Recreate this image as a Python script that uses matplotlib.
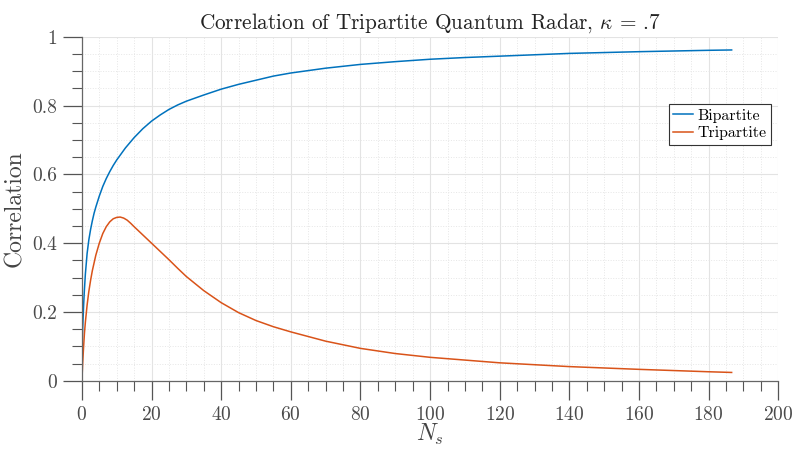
import numpy as np
import matplotlib
matplotlib.use("Agg")
import matplotlib.pyplot as plt
from matplotlib.ticker import MultipleLocator, FuncFormatter

# values
ns_bi = [0, 0.1, 0.2, 0.3, 0.5, 0.7, 1.0, 1.5, 2.0, 2.5, 3.0, 3.5, 4.0, 5.0, 6.0,
         7.0, 8.0, 9.0, 10, 12.5, 15, 17.5, 20, 22.5, 25, 27.5, 30, 35, 40, 45,
         50, 55, 60, 70, 80, 90, 100, 110, 120, 140, 160, 180, 186.6]
corr_bi = [0.05, 0.10, 0.145, 0.17, 0.22, 0.26, 0.31, 0.37, 0.41, 0.44, 0.465,
           0.487, 0.505, 0.537, 0.565, 0.588, 0.608, 0.626, 0.642, 0.677, 0.707,
           0.733, 0.755, 0.773, 0.789, 0.802, 0.813, 0.831, 0.848, 0.862, 0.874,
           0.886, 0.895, 0.909, 0.920, 0.928, 0.935, 0.940, 0.944, 0.952, 0.957,
           0.961, 0.962]

ns_tri = [0, 0.25, 0.5, 0.75, 1.0, 1.5, 2.0, 2.5, 3.0, 4.0, 5.0, 6.0, 7.0, 8.0,
          9.0, 10, 11, 12, 13, 14, 15, 17.5, 20, 22.5, 25, 27.5, 30, 35, 40, 45,
          50, 55, 60, 70, 80, 90, 100, 110, 120, 140, 160, 180, 186.6]
corr_tri = [0, 0.055, 0.10, 0.14, 0.17, 0.22, 0.26, 0.292, 0.32, 0.365, 0.40,
            0.428, 0.448, 0.462, 0.471, 0.475, 0.476, 0.473, 0.467, 0.458, 0.448,
            0.424, 0.400, 0.376, 0.352, 0.327, 0.303, 0.262, 0.227, 0.198, 0.175,
            0.157, 0.142, 0.115, 0.094, 0.079, 0.068, 0.060, 0.052, 0.041, 0.033,
            0.026, 0.024]

labels = ['Bipartite', 'Tripartite']
colors = ['#0072BD', '#D95319']

plt.rcParams['font.family'] = ['cmr10', 'DejaVu Serif']
plt.rcParams['mathtext.fontset'] = 'cm'
plt.rcParams['axes.formatter.use_mathtext'] = True

fig = plt.figure(figsize=(7.95, 4.5), dpi=100)
ax = fig.add_axes([0.103, 0.154, 0.876, 0.764])

ax.plot(ns_bi, corr_bi, color=colors[0], lw=1.1, label=labels[0])
ax.plot(ns_tri, corr_tri, color=colors[1], lw=1.1, label=labels[1])

ax.set_xlim(0, 200)
ax.set_ylim(0, 1)
ax.xaxis.set_major_locator(MultipleLocator(20))
ax.xaxis.set_minor_locator(MultipleLocator(5))
ax.yaxis.set_major_locator(MultipleLocator(0.2))
ax.yaxis.set_minor_locator(MultipleLocator(0.05))
ax.yaxis.set_major_formatter(FuncFormatter(lambda v, p: '%g' % round(v, 2)))

ax.grid(which='major', color='#e3e3e3', lw=0.8)
ax.grid(which='minor', color='#e6e6e6', lw=0.7, ls=':')
ax.set_axisbelow(True)

for side in ['top', 'right']:
    ax.spines[side].set_visible(False)
for side in ['left', 'bottom']:
    ax.spines[side].set_color('#666666')
    ax.spines[side].set_linewidth(0.9)

ax.tick_params(which='major', direction='out', length=14, width=0.9,
               color='#555555', labelsize=14, labelcolor='#4a4a4a', pad=4)
ax.tick_params(which='minor', direction='out', length=7, width=0.8,
               color='#555555')

ax.set_title(r'Correlation of Tripartite Quantum Radar, $\kappa$ = .7',
             fontsize=15.3, color='#222222', pad=6)
ax.set_xlabel(r'$N_s$', fontsize=17, color='#444444', labelpad=-1)
ax.set_ylabel('Correlation', fontsize=17, color='#444444', labelpad=4)

leg = ax.legend(loc='upper right', bbox_to_anchor=(0.99, 0.805), borderaxespad=0,
                fontsize=11.5, handlelength=1.2, handletextpad=0.3,
                borderpad=0.3, labelspacing=0.2, fancybox=False, framealpha=1)
leg.get_frame().set_edgecolor('#333333')
leg.get_frame().set_linewidth(0.8)

fig.savefig('out.png', dpi=100)
